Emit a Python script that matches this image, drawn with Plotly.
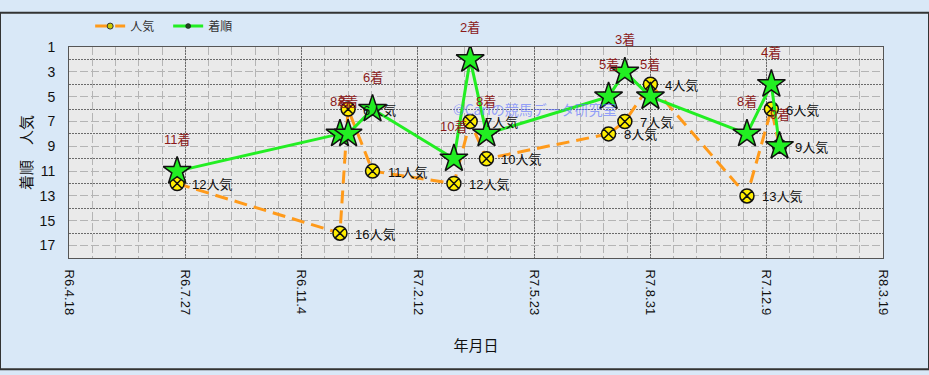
import plotly.graph_objects as go
import pandas as pd

# ---- data ----
race_dates = ["2024-07-20", "2024-12-07", "2024-12-14", "2025-01-04", "2025-03-15",
              "2025-03-29", "2025-04-12", "2025-07-26", "2025-08-09", "2025-08-31",
              "2025-11-22", "2025-12-13", "2025-12-20"]
finish = [11, 8, 8, 6, 10, 2, 8, 5, 3, 5, 8, 4, 9]          # 着順
popularity = [12, 16, 6, 11, 12, 7, 10, 8, 7, 4, 13, 6, 9]  # 人気

x_tick_vals = ["2024-04-18", "2024-07-27", "2024-11-04", "2025-02-12",
               "2025-05-23", "2025-08-31", "2025-12-09", "2026-03-19"]
x_tick_text = ["R6.4.18", "R6.7.27", "R6.11.4", "R7.2.12",
               "R7.5.23", "R7.8.31", "R7.12.9", "R8.3.19"]
y_tick_vals = [1, 3, 5, 7, 9, 11, 13, 15, 17]

# ---- layout constants ----
W, H = 929, 375
ML, MR, MT, MB = 69, 46, 36, 117
PW, PH = W - ML - MR, H - MT - MB

JP = "Noto Sans CJK JP"
LAT = "Liberation Sans, Noto Sans CJK JP"

fig = go.Figure()

# popularity (orange dashed, yellow circle-x)
fig.add_trace(go.Scatter(
    x=race_dates, y=popularity, mode="lines+markers", name="人気", showlegend=False,
    line=dict(color="#ff9a1a", width=3, dash="13px,7px"),
    marker=dict(symbol="circle-x", size=14, color="#ffee00",
                line=dict(color="#111111", width=1.5)),
    hoverinfo="skip"))

# finish (green line, green stars)
fig.add_trace(go.Scatter(
    x=race_dates, y=finish, mode="lines+markers", name="着順", showlegend=False,
    line=dict(color="#22ee22", width=3),
    marker=dict(symbol="star", size=21, color="#22ee22",
                line=dict(color="#111111", width=1.5)),
    hoverinfo="skip"))

# legend-only entries with small markers
fig.add_trace(go.Scatter(
    x=[None], y=[None], mode="lines+markers", name="人気",
    line=dict(color="#ff9a1a", width=3, dash="13px,7px"),
    marker=dict(symbol="circle", size=6, color="#cccc00",
                line=dict(color="#333333", width=1))))
fig.add_trace(go.Scatter(
    x=[None], y=[None], mode="lines+markers", name="着順",
    line=dict(color="#22ee22", width=3),
    marker=dict(symbol="circle", size=5, color="#224422",
                line=dict(color="#111111", width=0.5))))

annotations = []
for d, f in zip(race_dates, finish):
    annotations.append(dict(x=d, y=f, xref="x", yref="y", text=f"{f}着",
                            showarrow=False, yshift=32,
                            font=dict(family=LAT, size=13, color="#8b1a1a")))
for d, p in zip(race_dates, popularity):
    annotations.append(dict(x=d, y=p, xref="x", yref="y", text=f"{p}人気",
                            showarrow=False, xanchor="left", xshift=13, yshift=-1,
                            font=dict(family=LAT, size=13, color="#111111")))
# watermark
annotations.append(dict(x=(535 - ML) / PW, y=1 - (89 - MT) / PH, xref="paper", yref="paper",
                        text="©Cariの競馬データ研究室", showarrow=False,
                        font=dict(family=JP, size=14, color="rgba(95,115,255,0.65)")))

minor_x = [d.strftime("%Y-%m-%d") for d in pd.date_range("2024-04-18", "2026-03-19", freq="20D")]

fig.update_layout(
    width=W, height=H,
    margin=dict(l=ML, r=MR, t=MT, b=MB),
    paper_bgcolor="#d9e8f7",
    plot_bgcolor="#eaeaea",
    showlegend=True,
    legend=dict(orientation="h", x=0.026, y=1 + 22 / PH, xanchor="left", yanchor="middle",
                bgcolor="rgba(0,0,0,0)", font=dict(family=JP, size=12, color="#333333"),
                itemwidth=30, tracegroupgap=0, entrywidth=33, entrywidthmode="pixels"),
    annotations=annotations,
    shapes=[dict(type="rect", xref="paper", yref="paper",
                 x0=-ML / PW, x1=1 + MR / PW, y0=-MB / PH, y1=1 + MT / PH,
                 line=dict(color="#333333", width=2), fillcolor="rgba(0,0,0,0)")],
    xaxis=dict(
        type="date", range=["2024-04-18", "2026-03-19"],
        tickvals=x_tick_vals, ticktext=x_tick_text, tickangle=90,
        tickfont=dict(family="Liberation Sans", size=13, color="#111111"),
        ticklabelstandoff=8,
        showgrid=True, gridcolor="#6a6a6a", griddash="2px,1px", gridwidth=1,
        minor=dict(tickvals=minor_x, showgrid=True, gridcolor="#b4b4b4",
                   griddash="8px,3px", gridwidth=1),
        showline=True, linecolor="#555555", linewidth=1, mirror=True,
        zeroline=False,
        title=dict(text="年月日", font=dict(family=JP, size=15, color="#111111"), standoff=26),
    ),
    yaxis=dict(
        range=[18, 1], tickvals=y_tick_vals,
        tickfont=dict(family="Liberation Sans", size=14, color="#111111"),
        ticklabelstandoff=10,
        showgrid=True, gridcolor="#b4b4b4", griddash="8px,3px", gridwidth=1,
        minor=dict(tickvals=[2, 4, 6, 8, 10, 12, 14, 16], showgrid=True,
                   gridcolor="#6a6a6a", griddash="2px,1px", gridwidth=1),
        showline=True, linecolor="#555555", linewidth=1, mirror=True,
        zeroline=False,
        title=dict(text="着順　人気", font=dict(family=JP, size=15, color="#111111"), standoff=3),
    ),
)

fig.write_html("out.html")
